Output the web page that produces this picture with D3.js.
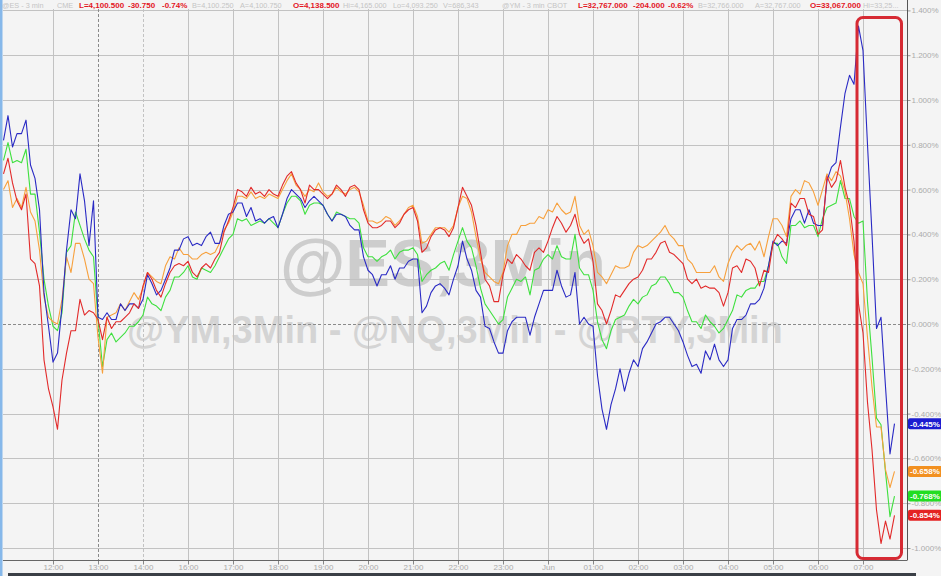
<!DOCTYPE html>
<html>
<head>
<meta charset="utf-8">
<script src="https://cdn.jsdelivr.net/npm/d3@7"></script>
<style>
  body { margin: 0; background: #f4f4f4; }
  svg { display: block; font-family: "Liberation Sans", Arial, sans-serif; }
</style>
</head>
<body>
<div id="canvas"></div>
<script>
(function (d3) {
  'use strict';

  const width = 941;
  const height = 576;

  // hour slots on the x axis (the 15:00 slot is skipped by the feed)
  const tickLabels = ['12:00', '13:00', '14:00', '16:00', '17:00', '18:00', '19:00', '20:00', '21:00', '22:00',
    '23:00', 'Jun', '01:00', '02:00', '03:00', '04:00', '05:00', '06:00', '07:00'];
  const yTicks = [-1, -0.8, -0.6, -0.4, -0.2, 0, 0.2, 0.4, 0.6, 0.8, 1, 1.2, 1.4];

  // % change, one value every 6 minutes, first point a few minutes before 12:00
  const nqValues = [0.82, 0.93, 0.79, 0.85, 0.85, 0.91, 0.71, 0.65, 0.51, 0.14,
    -0.01, -0.17, -0.13, 0.08, 0.33, 0.51, 0.47, 0.67, 0.55, 0.35,
    0.55, 0.03, 0.02, 0.05, 0.02, 0.02, 0.09, 0.06, 0.09, 0.09,
    0.07, 0.11, 0.22, 0.18, 0.13, 0.15, 0.20, 0.25, 0.33, 0.33,
    0.38, 0.39, 0.35, 0.36, 0.35, 0.39, 0.41, 0.36, 0.36, 0.44,
    0.49, 0.50, 0.54, 0.54, 0.48, 0.52, 0.46, 0.47, 0.45, 0.47,
    0.48, 0.43, 0.49, 0.56, 0.60, 0.58, 0.56, 0.52, 0.55, 0.57,
    0.55, 0.53, 0.49, 0.46, 0.49, 0.49, 0.48, 0.44, 0.42, 0.42,
    0.30, 0.24, 0.22, 0.17, 0.22, 0.22, 0.26, 0.20, 0.25, 0.25,
    0.28, 0.29, 0.29, 0.05, 0.08, 0.14, 0.17, 0.18, 0.16, 0.13,
    0.20, 0.26, 0.37, 0.29, 0.24, 0.15, 0.12, -0.01, -0.02, -0.08,
    -0.13, -0.13, -0.03, 0.01, 0.03, 0.03, 0.03, -0.05, 0.03, 0.09,
    0.15, 0.15, 0.15, 0.24, 0.17, 0.12, 0.13, 0.23, 0.00, 0.03,
    0.00, -0.01, -0.23, -0.38, -0.47, -0.36, -0.29, -0.20, -0.30, -0.22,
    -0.16, -0.19, -0.11, -0.08, -0.04, 0.00, 0.01, 0.03, 0.03, 0.00,
    -0.03, -0.08, -0.14, -0.19, -0.18, -0.22, -0.12, -0.16, -0.09, -0.16,
    -0.19, -0.16, -0.02, 0.02, 0.02, 0.04, 0.09, 0.09, 0.11, 0.16,
    0.26, 0.37, 0.35, 0.37, 0.36, 0.47, 0.51, 0.51, 0.45, 0.51,
    0.45, 0.44, 0.44, 0.64, 0.70, 0.72, 0.88, 1.03, 1.11, 1.07,
    1.33, 1.22, 0.80, 0.40, -0.02, 0.03, -0.28, -0.58, -0.445];

  const esValues = [0.60, 0.64, 0.52, 0.56, 0.52, 0.61, 0.50, 0.46, 0.33, 0.12,
    0.03, 0.01, 0.00, 0.11, 0.30, 0.23, 0.36, 0.36, 0.29, 0.20,
    0.18, -0.06, -0.22, 0.03, 0.04, 0.05, 0.09, 0.06, 0.10, 0.14,
    0.11, 0.16, 0.23, 0.21, 0.19, 0.18, 0.26, 0.30, 0.29, 0.34,
    0.31, 0.31, 0.29, 0.29, 0.31, 0.32, 0.31, 0.32, 0.36, 0.42,
    0.45, 0.50, 0.57, 0.57, 0.56, 0.59, 0.56, 0.57, 0.56, 0.58,
    0.57, 0.56, 0.60, 0.64, 0.67, 0.62, 0.60, 0.57, 0.60, 0.59,
    0.63, 0.59, 0.57, 0.58, 0.61, 0.59, 0.58, 0.60, 0.61, 0.59,
    0.53, 0.46, 0.46, 0.45, 0.46, 0.48, 0.47, 0.44, 0.46, 0.49,
    0.52, 0.53, 0.48, 0.36, 0.37, 0.40, 0.43, 0.43, 0.43, 0.41,
    0.44, 0.52, 0.57, 0.56, 0.50, 0.39, 0.29, 0.23, 0.21, 0.19,
    0.18, 0.23, 0.35, 0.40, 0.40, 0.44, 0.44, 0.45, 0.45, 0.48,
    0.47, 0.51, 0.50, 0.54, 0.51, 0.49, 0.50, 0.57, 0.44, 0.40,
    0.42, 0.35, 0.23, 0.21, 0.18, 0.22, 0.26, 0.25, 0.25, 0.26,
    0.32, 0.35, 0.34, 0.35, 0.37, 0.39, 0.41, 0.44, 0.40, 0.38,
    0.35, 0.35, 0.29, 0.27, 0.23, 0.23, 0.23, 0.23, 0.26, 0.21,
    0.19, 0.27, 0.32, 0.35, 0.33, 0.35, 0.36, 0.33, 0.37, 0.30,
    0.39, 0.47, 0.47, 0.44, 0.39, 0.57, 0.60, 0.58, 0.64, 0.63,
    0.59, 0.53, 0.60, 0.67, 0.64, 0.68, 0.66, 0.59, 0.47, 0.31,
    0.23, 0.18, -0.06, -0.28, -0.46, -0.46, -0.65, -0.73, -0.658];

  const ymValues = [0.73, 0.81, 0.72, 0.73, 0.72, 0.78, 0.58, 0.58, 0.41, 0.20,
    0.08, -0.01, -0.03, 0.05, 0.32, 0.35, 0.50, 0.44, 0.38, 0.33,
    0.30, 0.02, -0.19, -0.07, -0.04, -0.08, -0.06, -0.04, -0.01, -0.01,
    0.01, 0.04, 0.12, 0.09, 0.08, 0.06, 0.12, 0.15, 0.21, 0.21,
    0.23, 0.26, 0.21, 0.20, 0.25, 0.24, 0.23, 0.26, 0.30, 0.34,
    0.38, 0.40, 0.47, 0.46, 0.47, 0.44, 0.45, 0.46, 0.45, 0.47,
    0.45, 0.43, 0.49, 0.54, 0.57, 0.57, 0.55, 0.49, 0.53, 0.54,
    0.54, 0.53, 0.49, 0.46, 0.50, 0.49, 0.48, 0.47, 0.47, 0.45,
    0.34, 0.30, 0.30, 0.28, 0.30, 0.31, 0.33, 0.29, 0.32, 0.33,
    0.33, 0.34, 0.31, 0.19, 0.22, 0.24, 0.25, 0.27, 0.28, 0.24,
    0.31, 0.37, 0.43, 0.37, 0.34, 0.26, 0.16, 0.09, 0.06, 0.03,
    0.00, 0.02, 0.12, 0.16, 0.20, 0.19, 0.21, 0.13, 0.24, 0.25,
    0.29, 0.31, 0.29, 0.35, 0.30, 0.29, 0.29, 0.40, 0.25, 0.22,
    0.22, 0.15, 0.01, -0.07, -0.11, -0.03, 0.02, 0.03, 0.04, 0.08,
    0.11, 0.09, 0.12, 0.13, 0.17, 0.18, 0.21, 0.21, 0.18, 0.14,
    0.14, 0.12, 0.06, 0.01, 0.01, -0.02, 0.04, 0.01, -0.01, -0.04,
    -0.02, 0.02, 0.06, 0.13, 0.12, 0.15, 0.16, 0.16, 0.19, 0.19,
    0.26, 0.36, 0.36, 0.30, 0.27, 0.44, 0.44, 0.46, 0.43, 0.44,
    0.44, 0.39, 0.47, 0.52, 0.53, 0.54, 0.64, 0.56, 0.56, 0.48,
    0.45, 0.46, 0.10, -0.15, -0.42, -0.45, -0.66, -0.86, -0.768];

  const rtyValues = [0.67, 0.74, 0.63, 0.55, 0.51, 0.58, 0.29, 0.27, 0.17, -0.16,
    -0.29, -0.37, -0.47, -0.25, -0.13, -0.03, -0.03, 0.11, 0.04, 0.06,
    0.05, 0.02, -0.07, 0.03, -0.02, 0.01, 0.01, 0.03, 0.05, 0.09,
    0.07, 0.17, 0.23, 0.20, 0.15, 0.12, 0.18, 0.23, 0.26, 0.27,
    0.26, 0.28, 0.23, 0.21, 0.25, 0.27, 0.25, 0.29, 0.32, 0.41,
    0.46, 0.52, 0.60, 0.59, 0.57, 0.61, 0.58, 0.59, 0.57, 0.60,
    0.58, 0.57, 0.62, 0.66, 0.68, 0.63, 0.60, 0.54, 0.62, 0.60,
    0.60, 0.58, 0.56, 0.58, 0.62, 0.60, 0.57, 0.61, 0.62, 0.60,
    0.51, 0.45, 0.43, 0.43, 0.44, 0.46, 0.46, 0.43, 0.45, 0.49,
    0.51, 0.52, 0.46, 0.32, 0.34, 0.39, 0.42, 0.43, 0.42, 0.39,
    0.43, 0.52, 0.61, 0.57, 0.53, 0.44, 0.32, 0.20, 0.17, 0.10,
    0.10, 0.22, 0.29, 0.27, 0.31, 0.29, 0.26, 0.24, 0.32, 0.34,
    0.32, 0.37, 0.43, 0.48, 0.45, 0.41, 0.44, 0.49, 0.40, 0.36,
    0.38, 0.28, 0.09, 0.06, 0.00, 0.06, 0.13, 0.12, 0.15, 0.18,
    0.20, 0.21, 0.24, 0.29, 0.29, 0.32, 0.36, 0.37, 0.32, 0.31,
    0.29, 0.27, 0.20, 0.18, 0.20, 0.16, 0.17, 0.16, 0.16, 0.14,
    0.08, 0.14, 0.25, 0.26, 0.23, 0.29, 0.28, 0.25, 0.17, 0.24,
    0.23, 0.36, 0.40, 0.38, 0.35, 0.54, 0.52, 0.56, 0.56, 0.49,
    0.48, 0.40, 0.42, 0.66, 0.61, 0.64, 0.73, 0.61, 0.53, 0.37,
    0.09, -0.04, -0.35, -0.56, -0.83, -0.98, -0.88, -0.96, -0.854];

  const seriesNames = ['YM', 'ES', 'NQ', 'RTY'];
  const seriesValues = [ymValues, esValues, nqValues, rtyValues];
  const seriesColors = ['#3ee03e', '#f7a03c', '#2a2ac4', '#e22a2a'];
  const badgeColors = ['#22dd22', '#f29020', '#1c1cd0', '#e42222'];

  const headerItems = [
    ['@ES - 3 min', 2, false], ['CME', 57, false], ['L=4,100.500', 79, true], ['-30.750', 128, true],
    ['-0.74%', 162, true], ['B=4,100.250', 192, false], ['A=4,100.750', 240, false],
    ['O=4,138.500', 293, true], ['Hi=4,165.000', 343, false], ['Lo=4,093.250', 393, false],
    ['V=686,343', 443, false], ['@YM - 3 min', 502, false], ['CBOT', 547, false],
    ['L=32,767.000', 578, true], ['-204.000', 633, true], ['-0.62%', 668, true],
    ['B=32,766.000', 698, false], ['A=32,767.000', 755, false], ['O=33,067.000', 810, true],
    ['Hi=33,25...', 863, false]
  ];

  const plotLeft = 3;
  const plotRight = 907;
  const plotTop = 9;
  const plotBottom = 560;

  const x = d3.scaleLinear().domain([1, 19]).range([53, 863]);
  const y = d3.scaleLinear().domain([-1, 1.4]).range([548, 10.4]);
  const slotOf = (i) => (i - 1) / 10;
  const pct = (v) => v.toFixed(3) + '%';

  const svg = d3.select('#canvas')
    .append('svg')
    .attr('width', width)
    .attr('height', height);

  svg.append('rect').attr('width', width).attr('height', height).attr('fill', '#f4f4f4');

  // watermark
  svg.append('text')
    .attr('x', 280).attr('y', 286)
    .text('@ES,3Min')
    .style('font-size', '67px').style('font-weight', 'bold')
    .attr('fill', '#cdcdcd');
  svg.append('text')
    .attr('x', 127).attr('y', 343)
    .text('@YM,3Min - @NQ,3Min - @RTY,3Min')
    .style('font-size', '38px').style('font-weight', 'bold')
    .attr('fill', '#d4d4d4');

  // grid
  svg.append('g')
    .selectAll('line')
    .data(yTicks)
    .enter()
    .append('line')
    .attr('x1', plotLeft).attr('x2', plotRight)
    .attr('y1', (d) => Math.round(y(d)) + 0.5).attr('y2', (d) => Math.round(y(d)) + 0.5)
    .attr('stroke', (d) => d === 0 ? '#8a8a8a' : '#c2c2c2')
    .attr('stroke-dasharray', (d) => d === 0 ? '3,2' : null);

  svg.append('g')
    .selectAll('line')
    .data(d3.range(1, 20))
    .enter()
    .append('line')
    .attr('x1', (d) => Math.round(x(d)) + 0.5).attr('x2', (d) => Math.round(x(d)) + 0.5)
    .attr('y1', plotTop).attr('y2', plotBottom)
    .attr('stroke', (d) => d === 2 ? '#8a8a8a' : '#c2c2c2')
    .attr('stroke-dasharray', (d) => (d === 2 || d === 3) ? '3,2' : null);

  // series
  const line = d3.line()
    .x((d, i) => x(slotOf(i)))
    .y((d) => y(d));

  svg.append('g')
    .selectAll('path')
    .data(seriesValues)
    .enter()
    .append('path')
    .attr('d', line)
    .attr('fill', 'none')
    .attr('stroke', (d, i) => seriesColors[i])
    .attr('stroke-width', 1.1)
    .attr('stroke-linejoin', 'round');

  // highlight box
  svg.append('rect')
    .attr('x', 857).attr('y', 17.5)
    .attr('width', 44.5).attr('height', 541)
    .attr('rx', 6)
    .attr('fill', 'none')
    .attr('stroke', '#d62a33')
    .attr('stroke-width', 3);

  // right axis
  const yAxis = d3.axisRight(y)
    .tickValues(yTicks)
    .tickSize(3)
    .tickPadding(1)
    .tickFormat(pct);
  const yAxisG = svg.append('g')
    .attr('transform', `translate(${plotRight + 0.5},0)`)
    .call(yAxis);
  yAxisG.select('.domain').remove();
  yAxisG.selectAll('line').attr('stroke', '#999');
  yAxisG.selectAll('text')
    .attr('fill', '#ababab')
    .style('font-size', '8px')
    .style('font-family', '"Liberation Sans", Arial, sans-serif');
  svg.append('line')
    .attr('x1', plotRight + 0.5).attr('x2', plotRight + 0.5)
    .attr('y1', 0).attr('y2', plotBottom)
    .attr('stroke', '#555');

  // bottom axis
  const xAxis = d3.axisBottom(x)
    .tickValues(d3.range(1, 20))
    .tickSize(4)
    .tickPadding(0)
    .tickFormat((d) => tickLabels[d - 1]);
  const xAxisG = svg.append('g')
    .attr('transform', `translate(0,${plotBottom + 0.5})`)
    .call(xAxis);
  xAxisG.select('.domain').remove();
  xAxisG.selectAll('line').attr('stroke', '#888');
  xAxisG.selectAll('text')
    .attr('fill', '#ababab')
    .style('font-size', '8px')
    .style('font-family', '"Liberation Sans", Arial, sans-serif');
  svg.append('line')
    .attr('x1', plotLeft).attr('x2', plotRight + 0.5)
    .attr('y1', plotBottom + 0.5).attr('y2', plotBottom + 0.5)
    .attr('stroke', '#666');

  // last value badges
  const badges = svg.append('g')
    .selectAll('g')
    .data(seriesValues.map((vals, i) => ({ v: vals[vals.length - 1], c: badgeColors[i] })))
    .enter()
    .append('g')
    .attr('transform', (d) => `translate(${plotRight + 1},${y(d.v)})`);
  badges.append('rect')
    .attr('x', 0).attr('y', -5.5)
    .attr('width', 34).attr('height', 11)
    .attr('rx', 2)
    .attr('fill', (d) => d.c);
  badges.append('text')
    .attr('x', 2).attr('y', 3)
    .text((d) => pct(d.v))
    .style('font-size', '8px').style('font-weight', 'bold')
    .attr('fill', '#fff');

  // header strip
  svg.append('g')
    .selectAll('text')
    .data(headerItems)
    .enter()
    .append('text')
    .attr('x', (d) => d[1])
    .attr('y', 8)
    .text((d) => d[0])
    .style('font-size', (d) => d[2] ? '8px' : '7.3px')
    .style('font-weight', (d) => d[2] ? 'bold' : 'normal')
    .attr('fill', (d) => d[2] ? '#e3161f' : '#c4c4c4');

  // frame bits
  svg.append('rect').attr('x', 0).attr('y', 0).attr('width', 2.5).attr('height', height).attr('fill', '#86b8ea');
  svg.append('rect').attr('x', 8).attr('y', 573).attr('width', 908).attr('height', 3).attr('fill', '#3a3f46');

}(d3));
</script>
</body>
</html>
